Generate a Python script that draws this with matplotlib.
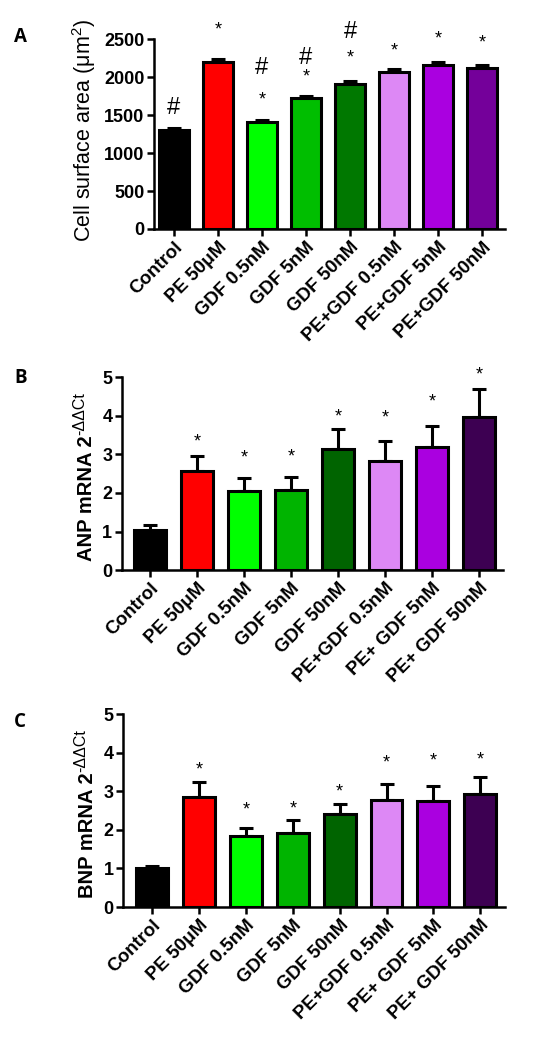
import matplotlib
matplotlib.use('Agg')
import matplotlib.pyplot as plt

plt.rcParams['font.family'] = ['Liberation Sans', 'DejaVu Sans']
plt.rcParams['mathtext.fontset'] = 'custom'
plt.rcParams['mathtext.rm'] = 'Liberation Sans'
plt.rcParams['mathtext.it'] = 'Liberation Sans:italic'
plt.rcParams['mathtext.bf'] = 'Liberation Sans:bold'

# ---- data ----
labels_a = ['Control', 'PE 50μM', 'GDF 0.5nM', 'GDF 5nM', 'GDF 50nM',
            'PE+GDF 0.5nM', 'PE+GDF 5nM', 'PE+GDF 50nM']
labels_bc = ['Control', 'PE 50μM', 'GDF 0.5nM', 'GDF 5nM', 'GDF 50nM',
             'PE+GDF 0.5nM', 'PE+ GDF 5nM', 'PE+ GDF 50nM']

area_mean = [1300, 2200, 1410, 1720, 1910, 2075, 2155, 2120]
area_err = [25, 40, 30, 35, 45, 40, 45, 45]
area_star = [None, 2620, 1700, 2000, 2250, 2340, 2510, 2450]
area_hash = [1600, None, 2120, 2250, 2600, None, None, None]

anp_mean = [1.04, 2.56, 2.04, 2.08, 3.13, 2.83, 3.18, 3.98]
anp_err = [0.12, 0.41, 0.34, 0.33, 0.53, 0.52, 0.55, 0.71]
anp_star = [None, 3.31, 2.92, 2.94, 3.98, 3.94, 4.37, 5.06]

bnp_mean = [1.01, 2.85, 1.83, 1.93, 2.40, 2.77, 2.76, 2.94]
bnp_err = [0.05, 0.38, 0.23, 0.33, 0.26, 0.41, 0.39, 0.42]
bnp_star = [None, 3.56, 2.51, 2.55, 2.98, 3.74, 3.78, 3.81]

colors_a = ['#000000', '#FF0000', '#00FF00', '#00BE00', '#007800',
            '#DD88F5', '#AA00E0', '#74009A']
colors_bc = ['#000000', '#FF0000', '#00FF00', '#00B400', '#006400',
             '#DD88F5', '#AA00E0', '#3D0052']

W, H = 560, 1048
fig = plt.figure(figsize=(5.6, 10.48), dpi=100)
fig.patch.set_facecolor('white')


def panel(rect, labels, means, errs, colors, ylim, yticks, xlim,
          stars, hashes=None):
    ax = fig.add_axes(rect)
    x = list(range(len(means)))
    ax.bar(x, means, width=0.68, color=colors, edgecolor='black', linewidth=2.2,
           zorder=2)
    ax.errorbar(x, means, yerr=[[0] * len(errs), errs], fmt='none',
                ecolor='black', elinewidth=2.2, capsize=5, capthick=2.2, zorder=1)
    for i, s in enumerate(stars):
        if s is not None:
            ax.text(i, s, '*', ha='center', va='center', fontsize=13)
    if hashes:
        for i, h in enumerate(hashes):
            if h is not None:
                ax.text(i, h, '#', ha='center', va='center', fontsize=17)
    ax.set_xlim(*xlim)
    ax.set_ylim(*ylim)
    ax.set_yticks(yticks)
    ax.set_xticks(x)
    ax.set_xticklabels(labels, rotation=45, ha='right', rotation_mode='anchor',
                       fontsize=13.5, fontweight='bold')
    for t in ax.get_yticklabels():
        t.set_fontweight('bold')
        t.set_fontsize(13)
    ax.spines['top'].set_visible(False)
    ax.spines['right'].set_visible(False)
    ax.spines['left'].set_linewidth(1.8)
    ax.spines['bottom'].set_linewidth(1.8)
    ax.tick_params(axis='both', width=1.8, length=5, pad=2)
    return ax


ax_a = panel([0.275, 0.7815, 0.627, 0.181], labels_a, area_mean, area_err,
             colors_a, (0, 2500), [0, 500, 1000, 1500, 2000, 2500],
             (-0.45, 7.52), area_star, area_hash)
ax_b = panel([0.218, 0.456, 0.680, 0.184], labels_bc, anp_mean, anp_err,
             colors_bc, (0, 5), [0, 1, 2, 3, 4, 5], (-0.6, 7.51), anp_star)
ax_c = panel([0.220, 0.1345, 0.682, 0.184], labels_bc, bnp_mean, bnp_err,
             colors_bc, (0, 5), [0, 1, 2, 3, 4, 5], (-0.62, 7.53), bnp_star)

# panel A y label
fig.text(98 / W, 1 - 131 / H, 'Cell surface area (μm$^{2}$)', rotation=90,
         ha='right', va='center', fontsize=15.5)

# panels B, C y labels: main text plus a larger superscript
fig.canvas.draw()
renderer = fig.canvas.get_renderer()
for name, xr, ybot in [('ANP', 96, 561), ('BNP', 97, 898)]:
    main = fig.text(xr / W, 1 - ybot / H, name + ' mRNA 2', rotation=90,
                    ha='right', va='bottom', fontsize=14.5, fontweight='bold')
    bb = main.get_window_extent(renderer)
    fig.text((xr - 9) / W, bb.y1 / H, '-ΔΔCt', rotation=90,
             ha='right', va='bottom', fontsize=11.5)

for letter, y in [('A', 37), ('B', 378), ('C', 722)]:
    fig.text(14 / W, 1 - y / H, letter, fontsize=13.5, fontweight='bold',
             family=['Open Sans', 'DejaVu Sans'], ha='left', va='center')

fig.savefig('out.png', dpi=100, facecolor='white')
